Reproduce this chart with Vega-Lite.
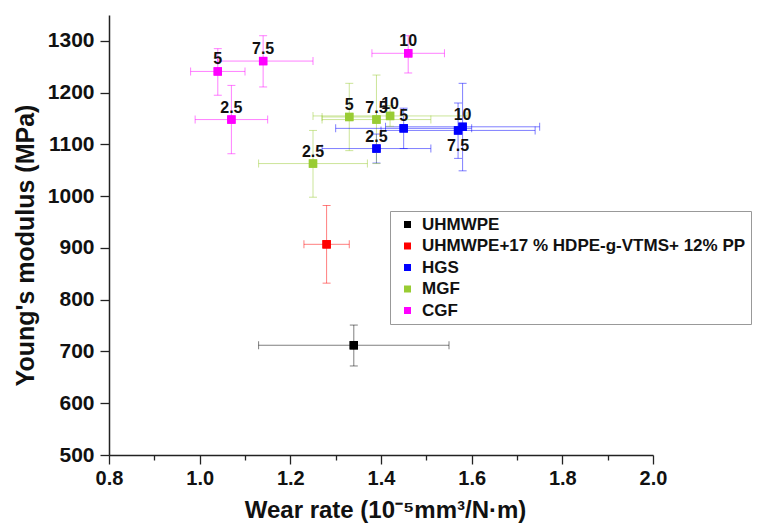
{
  "$schema": "https://vega.github.io/schema/vega-lite/v6.json",
  "width": 544,
  "height": 440,
  "autosize": {"type": "none"},
  "padding": {"left": 109, "top": 15, "right": 105, "bottom": 77},
  "background": "white",
  "config": {
    "view": {"stroke": null},
    "font": "Liberation Sans",
    "axis": {
      "domainColor": "#222",
      "domainWidth": 1.5,
      "tickColor": "#222",
      "tickWidth": 1.3,
      "grid": false,
      "labelFont": "Liberation Sans",
      "labelFontWeight": "bold",
      "labelColor": "#111",
      "titleFont": "Liberation Sans",
      "titleFontWeight": "bold",
      "titleColor": "#111"
    }
  },
  "data": {
    "values": [
      {"series": "UHMWPE", "load": null, "x": 1.34, "y": 712, "xlo": 1.13, "xhi": 1.55, "ylo": 672, "yhi": 751},
      {"series": "UHMWPE+17 % HDPE-g-VTMS+ 12% PP", "load": null, "x": 1.28, "y": 907, "xlo": 1.23, "xhi": 1.33, "ylo": 832, "yhi": 982},
      {"series": "HGS", "load": "2.5", "x": 1.39, "y": 1092, "xlo": 1.27, "xhi": 1.51, "ylo": 1064, "yhi": 1120},
      {"series": "HGS", "load": "5", "x": 1.45, "y": 1131, "xlo": 1.30, "xhi": 1.60, "ylo": 1092, "yhi": 1170},
      {"series": "HGS", "load": "7.5", "x": 1.57, "y": 1127, "xlo": 1.40, "xhi": 1.74, "ylo": 1073, "yhi": 1180},
      {"series": "HGS", "load": "10", "x": 1.58, "y": 1134, "xlo": 1.41, "xhi": 1.75, "ylo": 1049, "yhi": 1218},
      {"series": "MGF", "load": "2.5", "x": 1.25, "y": 1063, "xlo": 1.13, "xhi": 1.37, "ylo": 998, "yhi": 1127},
      {"series": "MGF", "load": "5", "x": 1.33, "y": 1153, "xlo": 1.27, "xhi": 1.39, "ylo": 1088, "yhi": 1218},
      {"series": "MGF", "load": "7.5", "x": 1.39, "y": 1148, "xlo": 1.27, "xhi": 1.51, "ylo": 1063, "yhi": 1234},
      {"series": "MGF", "load": "10", "x": 1.42, "y": 1155, "xlo": 1.25, "xhi": 1.59, "ylo": 1135, "yhi": 1175},
      {"series": "CGF", "load": "2.5", "x": 1.07, "y": 1148, "xlo": 0.99, "xhi": 1.15, "ylo": 1082, "yhi": 1214},
      {"series": "CGF", "load": "5", "x": 1.04, "y": 1241, "xlo": 0.98, "xhi": 1.10, "ylo": 1195, "yhi": 1285},
      {"series": "CGF", "load": "7.5", "x": 1.14, "y": 1261, "xlo": 1.04, "xhi": 1.25, "ylo": 1211, "yhi": 1310},
      {"series": "CGF", "load": "10", "x": 1.46, "y": 1276, "xlo": 1.38, "xhi": 1.54, "ylo": 1238, "yhi": 1310}
    ]
  },
  "layer": [
    {
      "mark": {"type": "point", "shape": "square", "filled": true, "size": 70, "opacity": 1},
      "encoding": {
        "x": {
          "field": "x", "type": "quantitative",
          "scale": {"domain": [0.8, 2.0], "nice": false, "zero": false},
          "axis": {
            "title": "Wear rate (10⁻⁵mm³/N·m)",
            "titleFontSize": 24,
            "titleBaseline": "alphabetic",
            "titleX": 276,
            "titleY": 62,
            "values": [0.8, 0.9, 1.0, 1.1, 1.2, 1.3, 1.4, 1.5, 1.6, 1.7, 1.8, 1.9, 2.0],
            "labelExpr": "round(datum.value*10) % 2 === 0 ? format(datum.value, '.1f') : ''",
            "tickSize": {"condition": {"test": "round(datum.value*10) % 2 === 0", "value": 9}, "value": 5},
            "labelFontSize": 20,
            "labelPadding": 4,
            "labelFlush": false,
            "labelOverlap": false
          }
        },
        "y": {
          "field": "y", "type": "quantitative",
          "scale": {"domain": [500, 1350], "nice": false, "zero": false},
          "axis": {
            "title": "Young's modulus (MPa)",
            "titleFontSize": 25,
            "titleBaseline": "alphabetic",
            "titleX": -76,
            "titleY": 230,
            "values": [500, 550, 600, 650, 700, 750, 800, 850, 900, 950, 1000, 1050, 1100, 1150, 1200, 1250, 1300, 1350],
            "labelExpr": "datum.value % 100 === 0 ? datum.value : ''",
            "tickSize": {"condition": {"test": "datum.value % 100 === 0", "value": 9}, "value": 5},
            "labelFontSize": 21,
            "labelPadding": 6,
            "labelFlush": false,
            "labelOverlap": false
          }
        },
        "color": {
          "field": "series",
          "type": "nominal",
          "scale": {
            "domain": ["UHMWPE", "UHMWPE+17 % HDPE-g-VTMS+ 12% PP", "HGS", "MGF", "CGF"],
            "range": ["#000000", "#ff0000", "#0000ff", "#99cc33", "#ff00ff"]
          },
          "legend": {
            "orient": "none",
            "legendX": 281,
            "legendY": 196,
            "title": null,
            "direction": "vertical",
            "fillColor": "white",
            "strokeColor": "#999999",
            "padding": 5,
            "symbolType": "square",
            "symbolSize": 49,
            "symbolOffset": 4,
            "symbolStrokeWidth": 0,
            "symbolOpacity": 1,
            "labelFont": "Liberation Sans",
            "labelFontSize": 17,
            "labelFontWeight": "bold",
            "labelColor": "#111",
            "labelOffset": 6,
            "labelLimit": 1000,
            "rowPadding": 3.5
          }
        }
      }
    },
    {
      "mark": {"type": "rule", "strokeOpacity": 0.5, "strokeWidth": 1},
      "encoding": {
        "x": {"field": "x", "type": "quantitative"},
        "y": {"field": "ylo", "type": "quantitative"},
        "y2": {"field": "yhi"},
        "color": {"field": "series", "type": "nominal", "legend": null}
      }
    },
    {
      "mark": {"type": "rule", "strokeOpacity": 0.5, "strokeWidth": 1},
      "encoding": {
        "x": {"field": "xlo", "type": "quantitative"},
        "x2": {"field": "xhi"},
        "y": {"field": "y", "type": "quantitative"},
        "color": {"field": "series", "type": "nominal", "legend": null}
      }
    },
    {
      "mark": {"type": "tick", "orient": "horizontal", "fillOpacity": 0.5, "size": 8, "thickness": 1},
      "encoding": {
        "x": {"field": "x", "type": "quantitative"},
        "y": {"field": "ylo", "type": "quantitative"},
        "color": {"field": "series", "type": "nominal", "legend": null}
      }
    },
    {
      "mark": {"type": "tick", "orient": "horizontal", "fillOpacity": 0.5, "size": 8, "thickness": 1},
      "encoding": {
        "x": {"field": "x", "type": "quantitative"},
        "y": {"field": "yhi", "type": "quantitative"},
        "color": {"field": "series", "type": "nominal", "legend": null}
      }
    },
    {
      "mark": {"type": "tick", "orient": "vertical", "fillOpacity": 0.5, "size": 8, "thickness": 1},
      "encoding": {
        "x": {"field": "xlo", "type": "quantitative"},
        "y": {"field": "y", "type": "quantitative"},
        "color": {"field": "series", "type": "nominal", "legend": null}
      }
    },
    {
      "mark": {"type": "tick", "orient": "vertical", "fillOpacity": 0.5, "size": 8, "thickness": 1},
      "encoding": {
        "x": {"field": "xhi", "type": "quantitative"},
        "y": {"field": "y", "type": "quantitative"},
        "color": {"field": "series", "type": "nominal", "legend": null}
      }
    },
    {
      "mark": {"type": "point", "shape": "square", "filled": true, "size": 70, "opacity": 1},
      "encoding": {
        "x": {"field": "x", "type": "quantitative"},
        "y": {"field": "y", "type": "quantitative"},
        "color": {"field": "series", "type": "nominal"}
      }
    },
    {
      "transform": [{"filter": "datum.load != null && !(datum.series === 'HGS' && datum.load === '7.5')"}],
      "mark": {"type": "text", "baseline": "alphabetic", "dy": -7, "font": "Liberation Sans", "fontWeight": "bold", "fontSize": 16, "color": "#111"},
      "encoding": {
        "x": {"field": "x", "type": "quantitative"},
        "y": {"field": "y", "type": "quantitative"},
        "text": {"field": "load"}
      }
    },
    {
      "transform": [{"filter": "datum.series === 'HGS' && datum.load === '7.5'"}],
      "mark": {"type": "text", "baseline": "top", "dy": 8, "font": "Liberation Sans", "fontWeight": "bold", "fontSize": 16, "color": "#111"},
      "encoding": {
        "x": {"field": "x", "type": "quantitative"},
        "y": {"field": "y", "type": "quantitative"},
        "text": {"field": "load"}
      }
    }
  ]
}
